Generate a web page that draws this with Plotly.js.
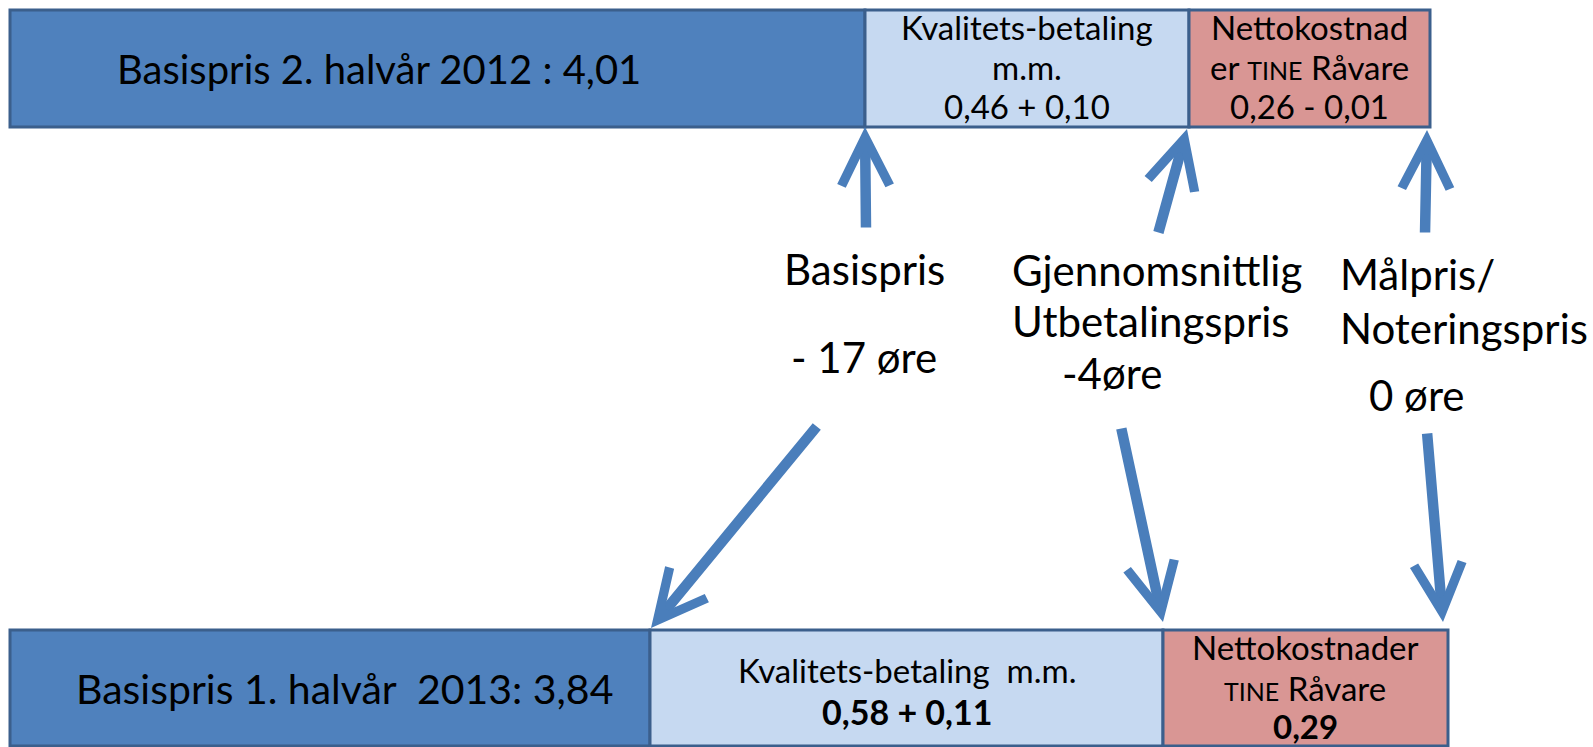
<!DOCTYPE html>
<html>
<head>
<meta charset="utf-8">
<script src="https://cdn.plot.ly/plotly-3.0.1.min.js"></script>
<style>html,body{margin:0;padding:0;background:#fff;overflow:hidden}</style>
</head>
<body>
<div id="chart" style="width:1593px;height:747px"></div>
<script>
// Segments of each price bar (display widths)
const segmentNames = ['Basispris', 'Kvalitetsbetaling m.m.', 'Nettokostnader TINE Råvare'];
const topWidths = [855, 324, 241];
const bottomWidths = [640, 513, 285];
const segmentColors = ['#4f81bd', '#c6d9f1', '#d99694'];

// Texts
const topBaseLabel = 'Basispris 2. halvår 2012 : 4,01';
const bottomBaseLabel = 'Basispris 1. halvår\u00a0 2013: 3,84';
const topQualityLines = ['Kvalitets-betaling', 'm.m.', '0,46 + 0,10'];
const topCostLines = ['Nettokostnad', 'er <span style="font-size:25px">TINE</span> Råvare', '0,26 - 0,01'];
const bottomQualityLines = ['Kvalitets-betaling\u00a0 m.m.', '<b>0,58 + 0,11</b>'];
const bottomCostLines = ['Nettokostnader', '<span style="font-size:25px">TINE</span> Råvare', '<b>0,29</b>'];
const priceNames = [['Basispris'], ['Gjennomsnittlig', 'Utbetalingspris'], ['Målpris/', 'Noteringspris']];
const changeLabels = ['- 17 øre', '-4øre', '0 øre'];

const FONT = 'Lato, "Open Sans", sans-serif';
const X0 = 10;
const ROW_Y = [68.5, 688];
const ROW_H = [117, 116];

function starts(widths) {
  const s = []; let acc = X0;
  widths.forEach(w => { s.push(acc); acc += w; });
  return s;
}
const topStarts = starts(topWidths);
const botStarts = starts(bottomWidths);

const traces = segmentNames.map((name, i) => ({
  type: 'bar',
  orientation: 'h',
  name: name,
  x: [topWidths[i], bottomWidths[i]],
  base: [topStarts[i], botStarts[i]],
  y: ROW_Y,
  width: ROW_H,
  marker: {color: segmentColors[i], line: {color: '#3b5f8c', width: 3}},
  hoverinfo: 'skip'
}));

const ann = [];
function txt(text, x, y, size, anchor) {
  ann.push({text: text, x: x, y: y, xref: 'x', yref: 'y', showarrow: false,
    xanchor: anchor || 'center', yanchor: 'middle',
    font: {family: FONT, size: size, color: '#000'}});
}
// Bar texts
txt(topBaseLabel, 115, 69, 40, 'left');
txt(bottomBaseLabel, 74, 688, 41, 'left');
const topLineY = [27, 67, 106];
topQualityLines.forEach((t, k) => txt(t, 1027, topLineY[k], 33));
topCostLines.forEach((t, k) => txt(t, 1309, topLineY[k], 33));
const bq = [670, 711];
bottomQualityLines.forEach((t, k) => txt(t, 907, bq[k], k === 1 ? 34 : 33));
const bc = [647, 688, 726];
bottomCostLines.forEach((t, k) => txt(t, 1305, bc[k], 33));

// Middle labels
txt(priceNames[0][0], 864, 269, 42);
txt(priceNames[1][0], 1010, 270, 42, 'left');
txt(priceNames[1][1], 1010, 321, 42, 'left');
txt(priceNames[2][0], 1338, 274, 42, 'left');
txt(priceNames[2][1], 1338, 328, 42, 'left');
txt(changeLabels[0], 864, 357, 42);
txt(changeLabels[1], 1112, 373, 42);
txt(changeLabels[2], 1417, 395, 42);

// Arrows [tailX, tailY, headX, headY]
const arrows = [
  [866, 229, 865, 127],
  [1158, 234, 1187, 129],
  [1425, 234, 1427, 130],
  [818, 425, 651, 628],
  [1121, 427, 1163, 622],
  [1427, 432, 1443, 622]
];
arrows.forEach(a => ann.push({
  text: '', x: a[2], y: a[3], ax: a[0], ay: a[1],
  xref: 'x', yref: 'y', axref: 'x', ayref: 'y',
  showarrow: true, arrowhead: 5, arrowsize: 0.9, arrowwidth: 10.5,
  arrowcolor: '#4a7ebb', standoff: 0
}));

const layout = {
  width: 1593, height: 747,
  margin: {l: 0, r: 0, t: 0, b: 0},
  paper_bgcolor: '#fff', plot_bgcolor: '#fff',
  showlegend: false,
  barmode: 'overlay',
  xaxis: {range: [0, 1593], visible: false, fixedrange: true},
  yaxis: {range: [747, 0], visible: false, fixedrange: true},
  annotations: ann
};
Plotly.newPlot('chart', traces, layout, {staticPlot: true, displayModeBar: false});
</script>
</body>
</html>
